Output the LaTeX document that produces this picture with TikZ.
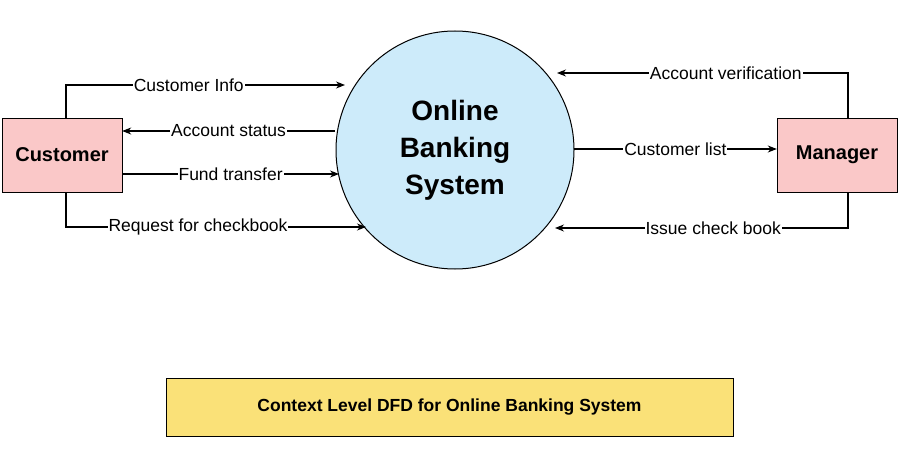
\documentclass[tikz,border=0pt]{standalone}
\usepackage{fontspec}
\setmainfont{Liberation Sans}
\usetikzlibrary{arrows.meta}
\definecolor{boxpink}{RGB}{250,200,200}
\definecolor{circblue}{RGB}{205,235,250}
\definecolor{capyellow}{RGB}{250,225,120}
\tikzset{
  flow/.style={draw=black, line width=1.1pt, -{Stealth[length=9pt,width=7pt]}},
  lbl/.style={fill=white, inner sep=1pt, font=\fontsize{17.5}{20}\selectfont},
  entity/.style={draw=black, fill=boxpink, minimum width=120pt, minimum height=74pt,
    font=\fontsize{20}{24}\selectfont\bfseries}
}
\begin{document}
\begin{tikzpicture}[x=1pt,y=-1pt]
  \useasboundingbox (0,0) rectangle (900,452);
  % process and entities
  \node[circle, draw=black, line width=1pt, fill=circblue, minimum size=238pt,
    align=center, font=\fontsize{28}{37}\selectfont\bfseries] (sys) at (455,150)
    {Online\\Banking\\System};
  \node[entity] (cust) at (62,155) {Customer};
  \node[entity] (mgr) at (837,155) {Manager};
  \node[draw=black, fill=capyellow, minimum width=567pt, minimum height=58pt,
    font=\fontsize{17.5}{20}\selectfont\bfseries] (cap) at (449.5,407)
    {Context Level DFD for Online Banking System};
  % helper coordinates on the circle
  \coordinate (c1) at (345,85);
  \coordinate (c2) at (335,131);
  \coordinate (c3) at (339,174);
  \coordinate (c4) at (366,227);
  \coordinate (m1) at (557,73);
  \coordinate (m2) at (574,149);
  \coordinate (m3) at (555,228);
  % customer flows
  \draw[flow] (cust.north) ++(4,0) |- node[lbl, pos=0.72] {Customer Info} (c1);
  \draw[flow] (c2) -- node[lbl] {Account status} (cust.east |- c2);
  \draw[flow] (cust.east |- c3) -- node[lbl] {Fund transfer} (c3);
  \draw[flow] (cust.south) ++(4,0) |- node[lbl, pos=0.72] {Request for checkbook} (c4);
  % manager flows
  \draw[flow] (mgr.north) ++(11,0) |- node[lbl, pos=0.71] {Account verification} (m1);
  \draw[flow] (m2) -- node[lbl] {Customer list} (mgr.west |- m2);
  \draw[flow] (mgr.south) ++(11,0) |- node[lbl, pos=0.73] {Issue check book} (m3);
\end{tikzpicture}
\end{document}
